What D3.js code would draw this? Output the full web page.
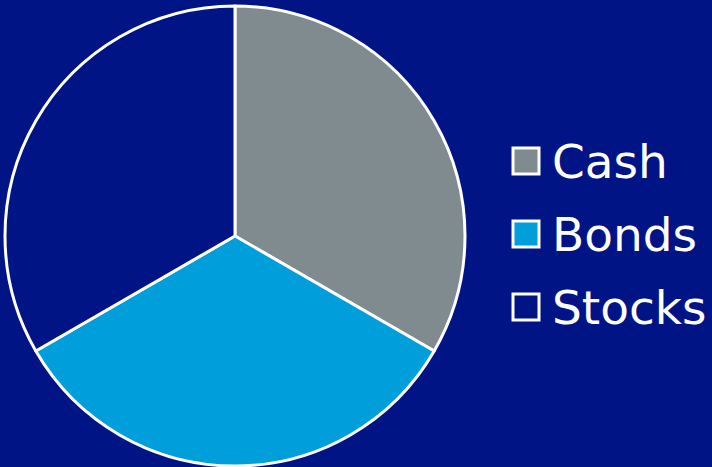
<!DOCTYPE html>
<html>
<head>
<meta charset="utf-8">
<script src="https://cdn.jsdelivr.net/npm/d3@7"></script>
<style>
  html, body { margin: 0; padding: 0; background: #001485; }
  svg { display: block; }
</style>
</head>
<body>
<svg width="712" height="467"></svg>
<script>
const categories = ['Cash', 'Bonds', 'Stocks']
const values = [1, 1, 1]
const colors = ['#7f8b8e', '#009edb', '#001485']

const svg = d3.select('svg')
const cx = 235
const cy = 236
const radius = 230

const pie = d3.pie().sort(null).value(d => d.value)
const arc = d3.arc().innerRadius(0).outerRadius(radius)

const data = categories.map((c, i) => ({ name: c, value: values[i] }))
const color = d3.scaleOrdinal(categories, colors)

svg.append('g')
  .attr('transform', `translate(${cx}, ${cy})`)
  .selectAll('path')
  .data(pie(data))
  .enter()
  .append('path')
  .attr('d', arc)
  .attr('fill', d => color(d.data.name))
  .attr('stroke', '#fff')
  .attr('stroke-width', 3)
  .attr('stroke-linejoin', 'round')

// Legend
const legend = svg.append('g')
const rowY = d3.scalePoint().domain(categories).range([161, 307])

legend.selectAll('rect')
  .data(categories)
  .enter()
  .append('rect')
  .attr('x', 513)
  .attr('y', d => rowY(d) - 13)
  .attr('width', 26)
  .attr('height', 26)
  .attr('fill', d => color(d))
  .attr('stroke', '#fff')
  .attr('stroke-width', 3)

legend.selectAll('text')
  .data(categories)
  .enter()
  .append('text')
  .attr('x', 552)
  .attr('y', d => rowY(d) + 17)
  .attr('fill', '#fff')
  .style('font-family', 'Verdana, "DejaVu Sans", sans-serif')
  .style('font-size', '47px')
  .text(d => d)
</script>
</body>
</html>
